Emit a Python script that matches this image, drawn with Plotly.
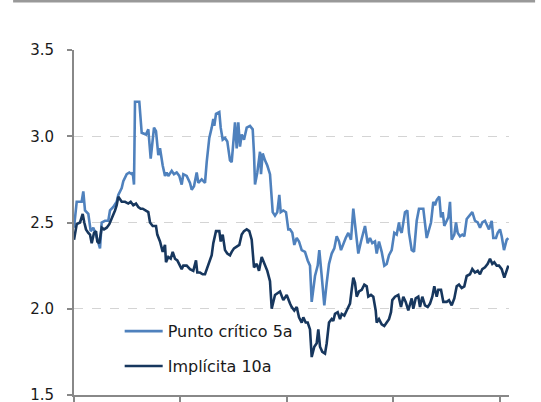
import plotly.graph_objects as go

# time axis (trading-day offset units)
x_light = [0, 2.7, 7.7, 9.3, 11, 14.3, 16.7, 19.3, 22, 24.3, 26, 27.7, 31, 34.3, 36, 39.3, 42.7, 44.3, 47.7, 49.3,
           52.7, 55.3, 57.7, 58.7, 60, 61, 65.3, 67.7, 72, 74.3, 76.7, 80, 82, 84.3, 86, 88.7, 91, 92.7, 94.3, 97.7,
           100, 102.7, 105.3, 107.7, 109.3, 112.7, 116, 117.7, 120, 122.7, 124.3, 127.7, 131, 132.7, 135.3, 137.7,
           139.3, 140.3, 142, 145.3, 146.7, 148.7, 151, 153.3, 156, 157.7, 159.3, 161, 162.7, 164.3, 166, 167.7,
           170, 172.7, 176, 178.7, 180, 181, 183.3, 186, 187, 188.7, 191, 193.3, 196, 198.7, 201, 203.3, 205.3,
           206.7, 209.3, 212, 214.3, 216, 218.3, 220.3, 222.7, 225, 227.7, 231, 233.7, 236, 237.7, 241, 243.7,
           245.3, 247.7, 250.3, 252.7, 255, 257.7, 260.3, 262.7, 265, 267, 269.3, 271.7, 274.3, 277, 279.3, 281.7,
           284.3, 287, 291, 293.7, 296, 298.3, 301, 302.7, 305, 307.7, 310.3, 312.7, 315, 317.7, 320.3, 322.7, 325,
           326, 327.7, 331, 333.3, 335, 337.7, 340, 342.7, 345, 349.3, 352.7, 354.3, 357, 359.3, 361, 362.7, 365.3,
           367, 368.7, 370.3, 372.7, 374.3, 376, 377.7, 380.3, 382, 383.7, 386, 388.3, 390.3, 392.7, 396, 398.3,
           401, 403.7, 406, 408.3, 411, 412.7, 415, 417.7, 419.3, 422, 423.7, 426, 427.7, 430, 432.7, 434.3]
punto_critico_5a = [2.47, 2.62, 2.62, 2.68, 2.57, 2.55, 2.45, 2.47, 2.43, 2.38, 2.35, 2.50, 2.51, 2.51, 2.57, 2.59,
                    2.62, 2.66, 2.70, 2.74, 2.78, 2.79, 2.78, 2.79, 2.72, 3.20, 3.20, 3.02, 3.01, 3.04, 2.87, 3.05,
                    3.03, 2.89, 2.93, 2.83, 2.77, 2.79, 2.77, 2.80, 2.78, 2.79, 2.77, 2.72, 2.78, 2.77, 2.73, 2.69,
                    2.71, 2.79, 2.73, 2.75, 2.73, 2.85, 2.99, 3.05, 3.10, 3.06, 3.13, 3.14, 3.05, 2.98, 2.99, 2.97,
                    2.86, 2.85, 2.97, 3.08, 2.93, 3.08, 2.94, 3.01, 2.98, 3.05, 3.06, 3.04, 2.90, 2.72, 2.79, 2.91,
                    2.78, 2.90, 2.86, 2.83, 2.78, 2.56, 2.54, 2.56, 2.66, 2.56, 2.57, 2.56, 2.46, 2.46, 2.44, 2.37,
                    2.41, 2.39, 2.34, 2.33, 2.28, 2.25, 2.04, 2.19, 2.25, 2.34, 2.19, 2.02, 2.15, 2.26, 2.32, 2.35,
                    2.42, 2.39, 2.34, 2.38, 2.41, 2.44, 2.40, 2.58, 2.44, 2.32, 2.39, 2.48, 2.38, 2.41, 2.38, 2.39,
                    2.32, 2.39, 2.33, 2.25, 2.26, 2.31, 2.34, 2.44, 2.43, 2.50, 2.46, 2.44, 2.56, 2.57, 2.44, 2.34,
                    2.33, 2.51, 2.58, 2.58, 2.41, 2.44, 2.50, 2.62, 2.60, 2.63, 2.65, 2.53, 2.56, 2.48, 2.51, 2.53,
                    2.62, 2.40, 2.43, 2.50, 2.44, 2.42, 2.43, 2.42, 2.52, 2.54, 2.56, 2.51, 2.50, 2.47, 2.50, 2.51,
                    2.49, 2.46, 2.51, 2.41, 2.41, 2.44, 2.46, 2.42, 2.34, 2.40, 2.41]

x_dark = [0, 2.7, 6, 8.7, 10.3, 12, 14.3, 16, 17.7, 20, 22, 23.3, 25.3, 27.7, 30, 32.7, 35.3, 37.7, 41, 42.7, 44.3,
          47.7, 51, 54.3, 56.7, 59.3, 62, 64.3, 66.7, 68.7, 71, 74.3, 76, 78.7, 82, 83.3, 86, 88.7, 91, 92, 94.3,
          96.7, 98.7, 101, 103.3, 105.3, 107.7, 109.3, 112.7, 116, 119.3, 122, 123.3, 126, 128.7, 131, 134.3,
          137.7, 139.3, 142, 145.3, 146.7, 148.7, 151, 153.3, 156, 157.7, 160, 162.7, 165.3, 167.7, 170, 172.7,
          175.3, 177.7, 180, 182.7, 185, 187.7, 190, 193.3, 196, 197.7, 201, 206, 209.3, 212.7, 216, 217.7, 220.3,
          222.7, 225, 227.7, 229.3, 231.7, 233.7, 236, 237.7, 240.3, 242.7, 244.3, 246, 248.3, 251, 252.7, 255,
          257.7, 259.3, 261, 263.7, 266, 267.7, 270.3, 272.7, 276, 277.7, 279.3, 281, 282.7, 285, 287.7, 290.3,
          292.7, 294.3, 297, 299.3, 301.7, 302.7, 305, 307.7, 310.3, 312.7, 315, 317, 318.3, 321, 324.3, 327,
          329.3, 331.7, 334.3, 337.7, 339.3, 341.7, 344.3, 346, 348.3, 351, 353.7, 356, 358.3, 360.3, 362.7,
          364.3, 367, 369.3, 372.7, 375, 377.7, 380.3, 382.7, 385, 387.7, 390.3, 392.7, 396, 398.3, 401, 403.7,
          406, 408.3, 411, 413.7, 416, 418.3, 420.3, 422.7, 425, 427.7, 430.3, 432.7, 434.3]
implicita_10a = [2.40, 2.49, 2.50, 2.55, 2.50, 2.46, 2.44, 2.43, 2.38, 2.44, 2.45, 2.39, 2.38, 2.47, 2.46, 2.47,
                 2.49, 2.52, 2.57, 2.60, 2.65, 2.62, 2.62, 2.61, 2.62, 2.60, 2.61, 2.59, 2.58, 2.58, 2.57, 2.56,
                 2.50, 2.48, 2.48, 2.43, 2.39, 2.33, 2.37, 2.27, 2.30, 2.29, 2.33, 2.29, 2.28, 2.26, 2.23, 2.25,
                 2.25, 2.23, 2.22, 2.28, 2.21, 2.21, 2.20, 2.20, 2.25, 2.31, 2.38, 2.45, 2.45, 2.39, 2.43, 2.34,
                 2.32, 2.31, 2.33, 2.35, 2.36, 2.37, 2.43, 2.45, 2.46, 2.45, 2.40, 2.24, 2.26, 2.22, 2.30, 2.27,
                 2.22, 2.16, 2.00, 2.08, 2.10, 2.05, 2.08, 2.03, 2.01, 1.99, 2.01, 1.95, 1.92, 1.95, 1.92, 1.92,
                 1.88, 1.72, 1.78, 1.80, 1.88, 1.78, 1.75, 1.74, 1.80, 1.92, 1.94, 1.93, 1.97, 1.98, 1.94, 1.97,
                 1.96, 1.99, 2.03, 2.11, 2.18, 2.15, 2.07, 2.10, 2.11, 2.14, 2.13, 2.07, 2.08, 2.07, 1.99, 1.92,
                 1.94, 1.91, 1.90, 1.92, 1.94, 1.98, 2.05, 2.07, 2.08, 2.01, 2.07, 2.04, 1.99, 2.06, 2.00, 2.06,
                 2.07, 2.01, 2.07, 2.02, 2.01, 2.03, 2.07, 2.13, 2.07, 2.11, 2.11, 2.04, 2.04, 2.05, 2.02, 2.06,
                 2.13, 2.14, 2.12, 2.13, 2.19, 2.20, 2.23, 2.21, 2.22, 2.20, 2.23, 2.24, 2.26, 2.29, 2.26, 2.27,
                 2.25, 2.25, 2.23, 2.18, 2.23, 2.25]

y_ticks = [1.5, 2.0, 2.5, 3.0, 3.5]
y_tick_labels = ["1.5", "2.0", "2.5", "3.0", "3.5"]
x_tick_step = 106.4

LIGHT = "#4F81BD"
DARK = "#17375E"
FONT = "DejaVu Sans"

fig = go.Figure()
fig.add_trace(go.Scatter(x=x_light, y=punto_critico_5a, mode="lines", name="Punto crítico 5a",
                         line=dict(color=LIGHT, width=2.6), legendgroup="a"))
fig.add_trace(go.Scatter(x=x_dark, y=implicita_10a, mode="lines", name="Implícita 10a",
                         line=dict(color=DARK, width=2.6), legendgroup="b"))

fig.update_layout(
    width=541, height=402,
    margin=dict(l=74, r=32, t=50, b=7, autoexpand=False),
    paper_bgcolor="white", plot_bgcolor="white",
    font=dict(family=FONT, size=15, color="#1a1a1a"),
    showlegend=True,
    legend=dict(x=0.105, y=0.234, xanchor="left", yanchor="top", bgcolor="rgba(0,0,0,0)",
                traceorder="grouped", tracegroupgap=11, itemwidth=38,
                font=dict(family=FONT, size=16, color="#1a1a1a")),
    xaxis=dict(range=[0, 435], tick0=0, dtick=x_tick_step, showticklabels=False, ticks="outside",
               ticklen=5, tickcolor="#888888", tickwidth=1.5, showline=True, linecolor="#888888", linewidth=2,
               showgrid=False, zeroline=False, automargin=False),
    yaxis=dict(range=[1.5, 3.5], tickvals=y_ticks, ticktext=y_tick_labels, ticks="outside", ticklen=5,
               tickcolor="#888888", tickwidth=1.5, showline=True, linecolor="#888888", linewidth=2,
               showgrid=True, gridcolor="#d4d4d4", griddash="dash", gridwidth=1, zeroline=False,
               automargin=False, ticklabelstandoff=10, ticklabeloverflow="allow",
               tickfont=dict(family=FONT, size=15, color="#1a1a1a")),
    shapes=[dict(type="line", xref="paper", yref="paper", x0=-0.140, x1=1.06, y0=1.142, y1=1.142,
                 line=dict(color="#999999", width=3))],
)

fig.write_html("out.html")
